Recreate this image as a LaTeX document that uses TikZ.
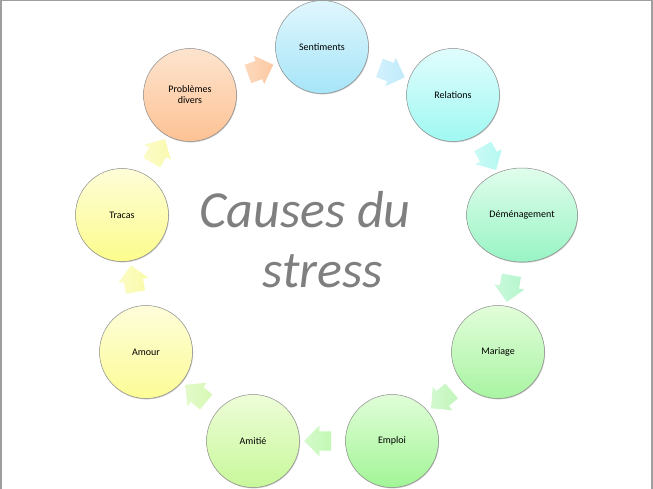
\documentclass[tikz,border=0pt]{standalone}
\usepackage{fontspec}
\setmainfont{Carlito}
\usetikzlibrary{shapes.arrows,shapes.geometric,shadows}
\definecolor{sentT}{HTML}{E0F6FD}\definecolor{sentB}{HTML}{A6E5F8}
\definecolor{relT}{HTML}{E0FDFD}\definecolor{relB}{HTML}{A0F8F2}
\definecolor{demT}{HTML}{E0FDEC}\definecolor{demB}{HTML}{98F4C4}
\definecolor{marT}{HTML}{E2FDDA}\definecolor{marB}{HTML}{A8F4A2}
\definecolor{empT}{HTML}{E0FDD8}\definecolor{empB}{HTML}{A2F596}
\definecolor{amiT}{HTML}{EEFDD8}\definecolor{amiB}{HTML}{C8F89A}
\definecolor{amoT}{HTML}{FEFDDA}\definecolor{amoB}{HTML}{FCFC96}
\definecolor{traT}{HTML}{FEFDD8}\definecolor{traB}{HTML}{FCFC8C}
\definecolor{proT}{HTML}{FDE4CE}\definecolor{proB}{HTML}{FDC294}
\definecolor{aPro}{HTML}{FCC9A2}
\definecolor{aSent}{HTML}{C0EBFB}
\definecolor{aRel}{HTML}{B4F8F2}
\definecolor{aDem}{HTML}{B4F6CC}
\definecolor{aMar}{HTML}{C0F6BA}
\definecolor{aEmp}{HTML}{C2F8B4}
\definecolor{aAmi}{HTML}{D6F8B4}
\definecolor{aAmo}{HTML}{FAFAAA}
\definecolor{aTra}{HTML}{FAFAB0}
\definecolor{titlegray}{HTML}{7F7F7F}
\begin{document}
\begin{tikzpicture}[x=1pt,y=-1pt,
  cause/.style 2 args={circle, draw=black!45, line width=0.5pt, minimum size=93pt,
    inner sep=0pt, align=center, font=\fontsize{10}{11}\selectfont,
    top color=#1, bottom color=#2,
    drop shadow={shadow xshift=0.6pt, shadow yshift=-0.9pt, opacity=0.22, fill=black}},
  flow/.style={single arrow, draw=none, sloped, allow upside down, minimum height=27pt,
    inner xsep=0pt, inner ysep=9.5pt, single arrow head extend=5.5pt,
    left color=#1!70!white, right color=#1},
  titletext/.style={font=\fontsize{52}{60}\selectfont\itshape, text=titlegray, anchor=base, inner sep=0pt}]
\useasboundingbox (0,0) rectangle (653,489);
\fill[white] (0,0) rectangle (653,489);
\draw[line width=1.5pt, black!38] (0.75,489) -- (0.75,0.75) -- (651.75,0.75) -- (651.75,489);

\node[cause={sentT}{sentB}] (sent) at (322,47) {Sentiments};
\node[cause={relT}{relB}] (rel) at (453,95) {Relations};
\node[cause={demT}{demB}, ellipse, minimum width=111pt, minimum height=94pt] (dem) at (522,215) {Déménagement};
\node[cause={marT}{marB}] (mar) at (498,352) {Mariage};
\node[cause={empT}{empB}] (emp) at (392,441) {Emploi};
\node[cause={amiT}{amiB}] (ami) at (253,441) {Amitié};
\node[cause={amoT}{amoB}] (amo) at (146,352) {Amour};
\node[cause={traT}{traB}] (tra) at (122,215) {Tracas};
\node[cause={proT}{proB}] (pro) at (190,95) {Problèmes\\divers};

\path (pro) -- node[flow=aPro] (f1) {} (sent);
\path (sent) -- node[flow=aSent] (f2) {} (rel);
\path (rel) -- node[flow=aRel] (f3) {} (dem);
\path (dem) -- node[flow=aDem] (f4) {} (mar);
\path (mar) -- node[flow=aMar] (f5) {} (emp);
\path (emp) -- node[flow=aEmp] (f6) {} (ami);
\path (ami) -- node[flow=aAmi] (f7) {} (amo);
\path (amo) -- node[flow=aAmo] (f8) {} (tra);
\path (tra) -- node[flow=aTra] (f9) {} (pro);

\node[titletext] (t1) at (305,227) {Causes du};
\node[titletext] (t2) at (323,287) {stress};
\end{tikzpicture}
\end{document}
